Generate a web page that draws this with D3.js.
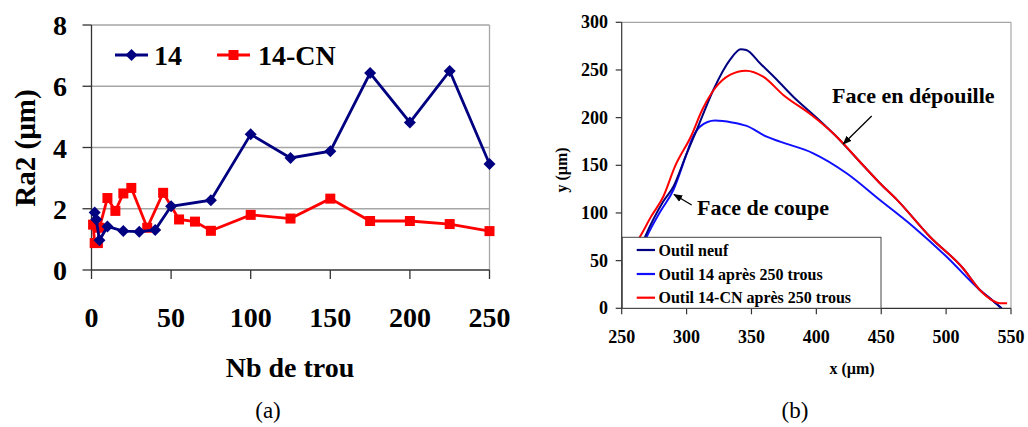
<!DOCTYPE html>
<html><head><meta charset="utf-8">
<script src="https://cdn.jsdelivr.net/npm/d3@7"></script>
<style>body{margin:0;background:#fff}svg{display:block}</style>
</head><body>
<svg id="c" width="1028" height="427"></svg>
<script>
// ---------- Chart (a) data ----------
const holesA14 = [2,3,5,10,20,30,40,50,75,100,125,150,175,200,225,250];
const ra14 = [1.88,1.65,0.97,1.42,1.27,1.25,1.31,2.08,2.28,4.43,3.66,3.88,6.43,4.82,6.5,3.46];
const holesACN = [1,2,4,5,10,15,20,25,35,45,55,65,75,100,125,150,175,200,225,250];
const raCN = [1.48,0.88,0.88,1.38,2.35,1.93,2.5,2.68,1.38,2.52,1.65,1.58,1.28,1.8,1.68,2.33,1.6,1.6,1.5,1.27];
const ticksAX = [0,50,100,150,200,250];
const ticksAY = [0,2,4,6,8];
const seriesA = ["14","14-CN"];

// ---------- Chart (b) data ----------
const neufX = [255,268,282,289.8,300,307.8,320.6,333.4,341.7,346,356.6,369.4,382.2,400.2,414.3,436,449,462,487.5,513,526,536,542.8];
const neufY = [30,75,112,127.6,162,187,229,260.5,271.8,271,257,240,222,200,181.8,150,131.2,114,75.1,42,19.2,8,0];
const o14X = [256,269.3,280,289.8,300,303.9,310.3,321.9,335,346.3,361.7,372,397.6,423.3,449,474.7,500.4,526,536,542.8];
const o14Y = [30,75.1,102,124.1,162,176.6,190.6,196.9,195,191.3,180,174.8,162.6,141.7,113.6,85.6,54.1,19.2,8,0];
const cnX = [250,264.1,273,282,291,303.9,312,321.9,333.4,345.8,359,374.5,396,414.3,436,449,462,487.5,513,526,536,541.5,547];
const cnY = [45,75.1,97,117,148.6,181.8,208,230.8,244.8,249.3,243,223.8,203,181.8,150,131.2,114,75.1,42,19.2,8,5.2,5.2];
const ticksBX = [250,300,350,400,450,500,550];
const ticksBY = [0,50,100,150,200,250,300];
const seriesB = ["Outil neuf","Outil 14 après 250 trous","Outil 14-CN après 250 trous"];

const svg = d3.select("#c");
const serif = "Liberation Serif";

// ================= Chart (a) =================
const xA = d3.scaleLinear().domain([0,250]).range([91.5,489.5]);
const yA = d3.scaleLinear().domain([0,8]).range([270,25]);
const gA = svg.append("g");
gA.selectAll("line.grid").data(ticksAY.filter(d=>d>0)).join("line")
  .attr("x1",xA(0)).attr("x2",xA(250)).attr("y1",d=>yA(d)).attr("y2",d=>yA(d))
  .attr("stroke","#a6a6a6").attr("stroke-width",1.3);
gA.append("line").attr("x1",xA(250)).attr("x2",xA(250)).attr("y1",yA(8)).attr("y2",yA(0))
  .attr("stroke","#a6a6a6").attr("stroke-width",1.3);
gA.append("line").attr("x1",xA(0)).attr("x2",xA(0)).attr("y1",yA(8)).attr("y2",yA(0)).attr("stroke","#333").attr("stroke-width",1.3);
gA.append("line").attr("x1",xA(0)).attr("x2",xA(250)).attr("y1",yA(0)).attr("y2",yA(0)).attr("stroke","#333").attr("stroke-width",1.3);
gA.selectAll("line.ty").data(ticksAY).join("line")
  .attr("x1",xA(0)-9).attr("x2",xA(0)).attr("y1",d=>yA(d)).attr("y2",d=>yA(d)).attr("stroke","#333").attr("stroke-width",1.3);
gA.selectAll("line.tx").data(ticksAX).join("line")
  .attr("x1",d=>xA(d)).attr("x2",d=>xA(d)).attr("y1",yA(0)).attr("y2",yA(0)+9).attr("stroke","#333").attr("stroke-width",1.3);
gA.selectAll("text.ly").data(ticksAY).join("text")
  .attr("x",67).attr("y",d=>yA(d)+10).attr("text-anchor","end")
  .attr("font-family",serif).attr("font-weight","bold").attr("font-size",28).text(d=>d);
gA.selectAll("text.lx").data(ticksAX).join("text")
  .attr("x",d=>xA(d)).attr("y",327).attr("text-anchor","middle")
  .attr("font-family",serif).attr("font-weight","bold").attr("font-size",28).text(d=>d);
gA.append("text").attr("x",290).attr("y",377).attr("text-anchor","middle")
  .attr("font-family",serif).attr("font-weight","bold").attr("font-size",28).text("Nb de trou");
gA.append("text").attr("transform","translate(35,148) rotate(-90)").attr("text-anchor","middle")
  .attr("font-family",serif).attr("font-weight","bold").attr("font-size",29).text("Ra2 (µm)");
const lineA = d3.line().x(d=>xA(d[0])).y(d=>yA(d[1]));
const dCN = holesACN.map((h,i)=>[h,raCN[i]]);
const d14 = holesA14.map((h,i)=>[h,ra14[i]]);
gA.append("path").datum(dCN).attr("d",lineA).attr("fill","none").attr("stroke","#ff0000").attr("stroke-width",2.8);
gA.selectAll("rect.m").data(dCN).join("rect")
  .attr("x",d=>xA(d[0])-5).attr("y",d=>yA(d[1])-5).attr("width",10).attr("height",10).attr("fill","#ff0000");
gA.append("path").datum(d14).attr("d",lineA).attr("fill","none").attr("stroke","#000080").attr("stroke-width",2.8);
const diamond = "M0,-6L6,0L0,6L-6,0Z";
gA.selectAll("path.m").data(d14).join("path")
  .attr("transform",d=>`translate(${xA(d[0])},${yA(d[1])})`).attr("d",diamond).attr("fill","#000080");
const legA = gA.append("g");
legA.append("line").attr("x1",115).attr("x2",148).attr("y1",55).attr("y2",55).attr("stroke","#000080").attr("stroke-width",2.8);
legA.append("path").attr("transform","translate(131.5,55)").attr("d",diamond).attr("fill","#000080");
legA.append("text").attr("x",154).attr("y",65).attr("font-family",serif).attr("font-weight","bold").attr("font-size",28).text(seriesA[0]);
legA.append("line").attr("x1",217).attr("x2",250).attr("y1",55).attr("y2",55).attr("stroke","#ff0000").attr("stroke-width",2.8);
legA.append("rect").attr("x",228.5).attr("y",50).attr("width",10).attr("height",10).attr("fill","#ff0000");
legA.append("text").attr("x",258).attr("y",65).attr("font-family",serif).attr("font-weight","bold").attr("font-size",28).text(seriesA[1]);
svg.append("text").attr("x",268).attr("y",418).attr("text-anchor","middle")
  .attr("font-family",serif).attr("font-size",23).text("(a)");

// ================= Chart (b) =================
const xB = d3.scaleLinear().domain([250,550]).range([621.7,1011]);
const yB = d3.scaleLinear().domain([0,300]).range([308.3,22.3]);
const gB = svg.append("g");
const defs = svg.append("defs");
defs.append("clipPath").attr("id","clipB").append("rect")
  .attr("x",xB(250)).attr("y",yB(300)).attr("width",xB(550)-xB(250)).attr("height",yB(0)-yB(300));
gB.append("line").attr("x1",xB(250)).attr("x2",xB(550)).attr("y1",yB(300)).attr("y2",yB(300)).attr("stroke","#a6a6a6").attr("stroke-width",1.2);
gB.append("line").attr("x1",xB(550)).attr("x2",xB(550)).attr("y1",yB(300)).attr("y2",yB(0)).attr("stroke","#a6a6a6").attr("stroke-width",1.2);
const lineB = d3.line().x(d=>xB(d[0])).y(d=>yB(d[1])).curve(d3.curveMonotoneX);
const curves = [
  {name:seriesB[0], x:neufX, y:neufY, color:"#000080"},
  {name:seriesB[1], x:o14X, y:o14Y, color:"#1010ff"},
  {name:seriesB[2], x:cnX, y:cnY, color:"#ff0000"}
];
const gC = gB.append("g").attr("clip-path","url(#clipB)");
[curves[1],curves[0],curves[2]].forEach(c=>{
  gC.append("path").datum(c.x.map((v,i)=>[v,c.y[i]])).attr("d",lineB)
    .attr("fill","none").attr("stroke",c.color).attr("stroke-width",2);
});
gB.append("line").attr("x1",xB(250)).attr("x2",xB(250)).attr("y1",yB(300)).attr("y2",yB(0)).attr("stroke","#333").attr("stroke-width",1.2);
gB.append("line").attr("x1",xB(250)).attr("x2",xB(550)).attr("y1",yB(0)).attr("y2",yB(0)).attr("stroke","#333").attr("stroke-width",1.2);
gB.selectAll("line.ty").data(ticksBY).join("line")
  .attr("x1",xB(250)-6).attr("x2",xB(250)).attr("y1",d=>yB(d)).attr("y2",d=>yB(d)).attr("stroke","#333").attr("stroke-width",1.2);
gB.selectAll("line.tx").data(ticksBX).join("line")
  .attr("x1",d=>xB(d)).attr("x2",d=>xB(d)).attr("y1",yB(0)).attr("y2",yB(0)+6).attr("stroke","#333").attr("stroke-width",1.2);
gB.selectAll("text.ly").data(ticksBY).join("text")
  .attr("x",608).attr("y",d=>yB(d)+6).attr("text-anchor","end")
  .attr("font-family",serif).attr("font-weight","bold").attr("font-size",18).text(d=>d);
gB.selectAll("text.lx").data(ticksBX).join("text")
  .attr("x",d=>xB(d)).attr("y",343).attr("text-anchor","middle")
  .attr("font-family",serif).attr("font-weight","bold").attr("font-size",18).text(d=>d);
gB.append("text").attr("x",852).attr("y",374).attr("text-anchor","middle")
  .attr("font-family",serif).attr("font-weight","bold").attr("font-size",16).text("x (µm)");
gB.append("text").attr("transform","translate(567,170) rotate(-90)").attr("text-anchor","middle")
  .attr("font-family",serif).attr("font-weight","bold").attr("font-size",16).text("y (µm)");
const legB = gB.append("g");
legB.append("rect").attr("x",622.3).attr("y",237.3).attr("width",258.7).attr("height",71)
  .attr("fill","#fff").attr("stroke","#444").attr("stroke-width",1);
curves.forEach((c,i)=>{
  const yy = [250,274,297.7][i];
  legB.append("line").attr("x1",636.7).attr("x2",655).attr("y1",yy).attr("y2",yy).attr("stroke",c.color).attr("stroke-width",2.2);
  legB.append("text").attr("x",658.5).attr("y",yy+5.5).attr("font-family",serif).attr("font-weight","bold").attr("font-size",16).text(c.name);
});
defs.append("marker").attr("id","arr").attr("viewBox","0 0 10 10").attr("refX",9).attr("refY",5)
  .attr("markerWidth",7).attr("markerHeight",7).attr("orient","auto")
  .append("path").attr("d","M0,1L10,5L0,9Z").attr("fill","#000");
gB.append("line").attr("x1",871.7).attr("y1",116).attr("x2",843.3).attr("y2",144)
  .attr("stroke","#000").attr("stroke-width",1.3).attr("marker-end","url(#arr)");
gB.append("line").attr("x1",691.7).attr("y1",205).attr("x2",674).attr("y2",194.5)
  .attr("stroke","#000").attr("stroke-width",1.3).attr("marker-end","url(#arr)");
gB.append("text").attr("x",832).attr("y",103).attr("font-family",serif).attr("font-weight","bold").attr("font-size",22).text("Face en dépouille");
gB.append("text").attr("x",697).attr("y",215).attr("font-family",serif).attr("font-weight","bold").attr("font-size",22).text("Face de coupe");
svg.append("text").attr("x",795).attr("y",418).attr("text-anchor","middle")
  .attr("font-family",serif).attr("font-size",23).text("(b)");
</script>
</body></html>
